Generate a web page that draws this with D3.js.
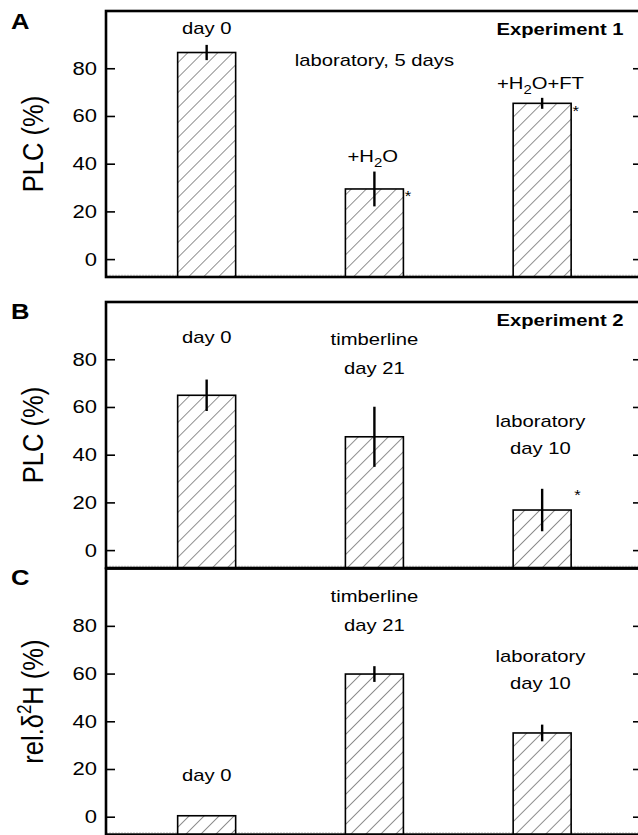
<!DOCTYPE html>
<html>
<head>
<meta charset="utf-8">
<script src="https://cdn.jsdelivr.net/npm/d3@7"></script>
<style>
  html, body { margin: 0; padding: 0; background: #fff; }
  text { font-family: "Liberation Sans", Arial, Helvetica, sans-serif; fill: #000; }
</style>
</head>
<body>
<svg id="chart" width="638" height="835"></svg>
<script>
// ---- data ----
const xPositions = [1, 2, 3];
const yTicks = [0, 20, 40, 60, 80];
const yDomain = [-7.5, 104];

// Experiment 1 (panel A): PLC (%)
const plcExp1 = [86.6, 29.4, 65.3];
const errExp1 = [3.2, 7.3, 2.3];
// Experiment 2 (panel B): PLC (%)
const plcExp2 = [64.9, 47.5, 16.8];
const errExp2 = [6.6, 12.6, 8.9];
// Experiment 2 (panel C): rel. delta2H (%)
const dHExp2 = [0.4, 59.8, 35.1];
const errDH = [0, 3.3, 3.5];

const panelLetters = ["A", "B", "C"];
const experimentTitles = ["Experiment 1", "Experiment 2", ""];

// ---- layout ----
const svg = d3.select("#chart");
const SX = 1.19;               // horizontal stretch of lettering in the reference
const FONT = "Liberation Sans, Arial, sans-serif";
const x = d3.scaleLinear().domain([0.4, 3.6]).range([106, 642.8]);
const panelTops = [11, 302, 568.6];
const panelH = 266;
const barW = 58;

// hatch pattern
const defs = svg.append("defs");
const pat = defs.append("pattern")
  .attr("id", "hatch").attr("patternUnits", "userSpaceOnUse")
  .attr("width", 10.6).attr("height", 10.6)
  .attr("patternTransform", "rotate(45)");
pat.append("rect").attr("width", 10.6).attr("height", 10.6).attr("fill", "#fff");
pat.append("line").attr("x1", 0).attr("y1", 0).attr("x2", 0).attr("y2", 10.6)
  .attr("stroke", "#222").attr("stroke-width", 1);

function addText(g, px, py, str, opts = {}) {
  const t = g.append("text")
    .attr("transform", `translate(${px},${py}) scale(${SX},1)` + (opts.rotate ? ` rotate(${opts.rotate})` : ""))
    .attr("text-anchor", opts.anchor || "middle")
    .attr("font-size", opts.size || 17)
    .attr("font-weight", opts.bold ? "bold" : "normal");
  if (Array.isArray(str)) {
    str.forEach(p => {
      const ts = t.append("tspan").text(p.t);
      if (p.dy) ts.attr("dy", p.dy);
      if (p.size) ts.attr("font-size", p.size);
    });
  } else {
    t.text(str);
  }
  return t;
}

function drawPanel(i, values, errors, yTitle, annotations, stars) {
  const top = panelTops[i];
  const y = d3.scaleLinear().domain(yDomain).range([top + panelH, top]);
  const g = svg.append("g");

  // faint dotted line just above the bottom frame
  g.append("line")
    .attr("x1", x(0.4)).attr("x2", x(3.6))
    .attr("y1", y(yDomain[0]) - 1.8).attr("y2", y(yDomain[0]) - 1.8)
    .attr("stroke", "#d0d0d0").attr("stroke-width", 1).attr("stroke-dasharray", "2,1");

  // bars
  g.selectAll("rect.bar").data(values).join("rect")
    .attr("class", "bar")
    .attr("x", (d, j) => x(xPositions[j]) - barW / 2)
    .attr("width", barW)
    .attr("y", d => y(d))
    .attr("height", d => y(yDomain[0]) - y(d))
    .attr("fill", "url(#hatch)")
    .attr("stroke", "#000").attr("stroke-width", 1.6);

  // error bars
  g.selectAll("line.err").data(values).join("line")
    .attr("class", "err")
    .attr("x1", (d, j) => x(xPositions[j])).attr("x2", (d, j) => x(xPositions[j]))
    .attr("y1", (d, j) => y(d + errors[j])).attr("y2", (d, j) => y(d - errors[j]))
    .attr("stroke", "#000").attr("stroke-width", 2.4)
    .style("display", (d, j) => errors[j] > 0 ? null : "none");

  // left axis (ticks inward)
  const ax = g.append("g").attr("transform", `translate(${x(0.4)},0)`)
    .call(d3.axisLeft(y).tickValues(yTicks).tickSizeInner(-9).tickSizeOuter(0).tickPadding(9));
  ax.select(".domain").remove();
  ax.selectAll(".tick line").attr("stroke", "#000").attr("stroke-width", 1.6);
  ax.selectAll(".tick text")
    .attr("font-size", 18.5).attr("font-family", FONT)
    .attr("transform", `translate(-9,0) scale(${SX},1)`).attr("x", 0);

  // right axis (ticks inward, no labels)
  const axR = g.append("g").attr("transform", `translate(${x(3.6)},0)`)
    .call(d3.axisRight(y).tickValues(yTicks).tickSizeInner(-9.8).tickSizeOuter(0).tickFormat(""));
  axR.select(".domain").remove();
  axR.selectAll(".tick line").attr("stroke", "#000").attr("stroke-width", 1.6);

  // frame
  g.append("rect")
    .attr("x", x(0.4)).attr("y", y(yDomain[1]))
    .attr("width", x(3.6) - x(0.4)).attr("height", y(yDomain[0]) - y(yDomain[1]))
    .attr("fill", "none").attr("stroke", "#000").attr("stroke-width", 2.6);

  // panel letter
  addText(g, 11, top + (i === 0 ? 17.5 : 16.5), panelLetters[i], { anchor: "start", size: 21.5, bold: true });
  // experiment title
  if (experimentTitles[i]) addText(g, x(3.485), y(93.8), experimentTitles[i], { anchor: "end", size: 17, bold: true });

  // y title
  addText(g, 43, (y(yDomain[0]) + y(yDomain[1])) / 2, yTitle, { rotate: -90, size: 25.5 });

  // annotations
  annotations.forEach(a => addText(g, x(a.x), y(a.y), a.text, { size: 17 }));
  stars.forEach(s => addText(g, x(s.x), y(s.y), "*", { size: 14 }));
}

drawPanel(0, plcExp1, errExp1, "PLC (%)", [
  { x: 1, y: 94.2, text: "day 0" },
  { x: 2, y: 80.8, text: "laboratory, 5 days" },
  { x: 1.99, y: 40.6, text: [{ t: "+H" }, { t: "2", dy: 5, size: 12.5 }, { t: "O", dy: -5 }] },
  { x: 2.99, y: 71.2, text: [{ t: "+H" }, { t: "2", dy: 5, size: 12.5 }, { t: "O+FT", dy: -5 }] }
], [
  { x: 2.2, y: 24.3 },
  { x: 3.2, y: 59.9 }
]);

drawPanel(1, plcExp2, errExp2, "PLC (%)", [
  { x: 1, y: 86.7, text: "day 0" },
  { x: 2, y: 85.9, text: "timberline" },
  { x: 2, y: 73.7, text: "day 21" },
  { x: 2.99, y: 51.5, text: "laboratory" },
  { x: 2.99, y: 40.2, text: "day 10" }
], [
  { x: 3.21, y: 21.2 }
]);

drawPanel(2, dHExp2, errDH, [{ t: "rel.δ" }, { t: "2", dy: -10, size: 17 }, { t: "H (%)", dy: 10 }], [
  { x: 2, y: 89.9, text: "timberline" },
  { x: 2, y: 77.8, text: "day 21" },
  { x: 2.99, y: 64.8, text: "laboratory" },
  { x: 2.99, y: 53.5, text: "day 10" },
  { x: 1, y: 15.0, text: "day 0" }
], []);
</script>
</body>
</html>
